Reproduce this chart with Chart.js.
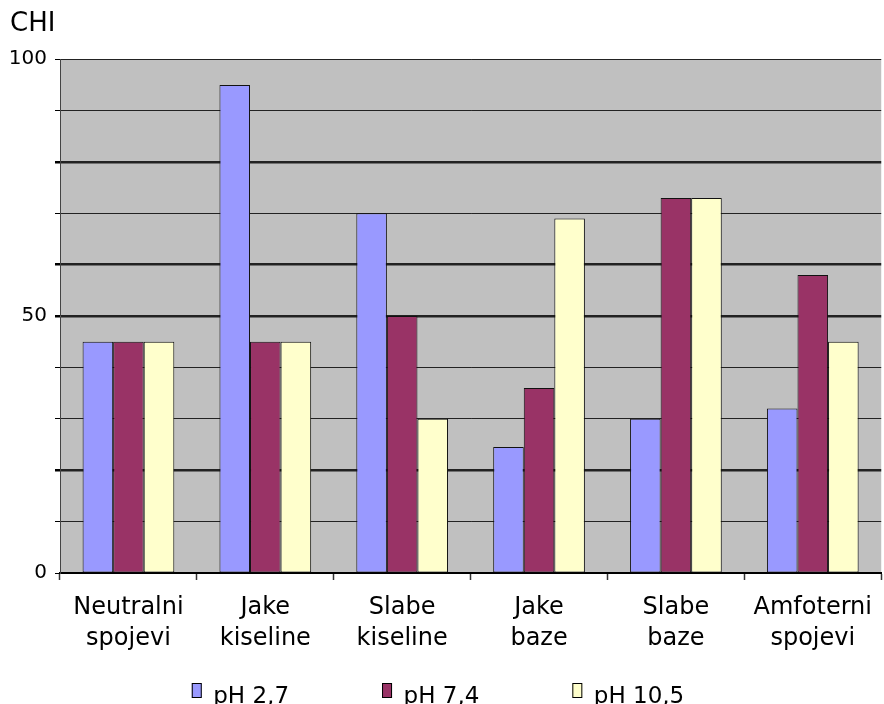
<!DOCTYPE html>
<html>
<head>
<meta charset="utf-8">
<script src="https://cdn.jsdelivr.net/npm/chart.js@4"></script>
<style>
  body { margin: 0; background: #fff; }
  canvas { display: block; }
</style>
</head>
<body>
<canvas id="chiChart" width="884" height="704"></canvas>
<script>
// Podaci
const categories = [
    ['Neutralni', 'spojevi'],
    ['Jake', 'kiseline'],
    ['Slabe', 'kiseline'],
    ['Jake', 'baze'],
    ['Slabe', 'baze'],
    ['Amfoterni', 'spojevi']
];
const seriesNames = ['pH 2,7', 'pH 7,4', 'pH 10,5'];
const ph27 = [45, 95, 70, 24.5, 30, 32];
const ph74 = [45, 45, 50, 36, 73, 58];
const ph105 = [45, 45, 30, 69, 73, 45];
const yTickLabels = [0, 50, 100];

const FONT = '"DejaVu Sans", Verdana, sans-serif';

// Sivo polje iza stupaca
const plotBg = {
    id: 'plotBg',
    beforeDraw(chart) {
        const { ctx, chartArea: a } = chart;
        ctx.save();
        ctx.fillStyle = '#c0c0c0';
        ctx.fillRect(a.left, a.top, a.right - a.left, a.bottom - a.top);
        ctx.restore();
    }
};

// Legenda ispod grafa
const bottomLegend = {
    id: 'bottomLegend',
    afterDraw(chart) {
        const ctx = chart.ctx;
        const sets = chart.data.datasets;
        const boxW = 10, boxH = 15, gap = 11.5, spacing = 93;
        ctx.save();
        ctx.font = '23px ' + FONT;
        const widths = sets.map(d => boxW + gap + ctx.measureText(d.label).width);
        const total = widths.reduce((s, w) => s + w, 0) + spacing * (sets.length - 1);
        let x = 438 - total / 2;
        sets.forEach((d, i) => {
            ctx.fillStyle = d.backgroundColor;
            ctx.fillRect(x, 683, boxW, boxH);
            ctx.strokeStyle = '#000';
            ctx.lineWidth = 1;
            ctx.strokeRect(x + 0.5, 683.5, boxW - 1, boxH - 1);
            ctx.fillStyle = '#000';
            ctx.textBaseline = 'alphabetic';
            ctx.fillText(d.label, x + boxW + gap, 703);
            x += widths[i] + spacing;
        });
        ctx.restore();
    }
};

const thick = [20, 50, 60, 80];

function bar(label, data, color) {
    return {
        label: label,
        data: data,
        backgroundColor: color,
        borderColor: '#111',
        borderWidth: 1,
        borderSkipped: false,
        categoryPercentage: 0.67,
        barPercentage: 1.0
    };
}

new Chart(document.getElementById('chiChart'), {
    type: 'bar',
    data: {
        labels: categories,
        datasets: [
            bar(seriesNames[0], ph27, '#9999ff'),
            bar(seriesNames[1], ph74, '#993366'),
            bar(seriesNames[2], ph105, '#ffffcc')
        ]
    },
    options: {
        responsive: false,
        animation: false,
        devicePixelRatio: 1,
        layout: { padding: { left: 10, right: 0, top: 0, bottom: 51 } },
        plugins: {
            legend: { display: false },
            tooltip: { enabled: false },
            title: {
                display: true,
                text: 'CHI',
                align: 'start',
                color: '#000',
                font: { family: FONT, size: 26, weight: 'normal' },
                padding: { top: 9, bottom: 19 }
            }
        },
        scales: {
            x: {
                afterFit: s => { s.height = 80; },
                border: { color: '#000', width: 2 },
                grid: {
                    offset: true,
                    drawOnChartArea: false,
                    drawTicks: true,
                    tickLength: 7,
                    tickColor: '#333',
                    tickWidth: 1.5
                },
                ticks: {
                    color: '#000',
                    padding: 12,
                    maxRotation: 0,
                    autoSkip: false,
                    font: { family: FONT, size: 24, lineHeight: 1.3 }
                }
            },
            y: {
                min: 0,
                max: 100,
                afterFit: s => { s.width = 50; },
                border: { color: '#444', width: 1 },
                grid: {
                    color: '#222',
                    lineWidth: c => thick.includes(c.tick && c.tick.value) ? 2.5 : 1,
                    tickLength: 5,
                    tickColor: '#000'
                },
                ticks: {
                    stepSize: 10,
                    padding: 8,
                    color: '#000',
                    font: { family: FONT, size: 20 },
                    callback: v => yTickLabels.includes(v) ? String(v) : ''
                }
            }
        }
    },
    plugins: [plotBg, bottomLegend]
});
</script>
</body>
</html>
